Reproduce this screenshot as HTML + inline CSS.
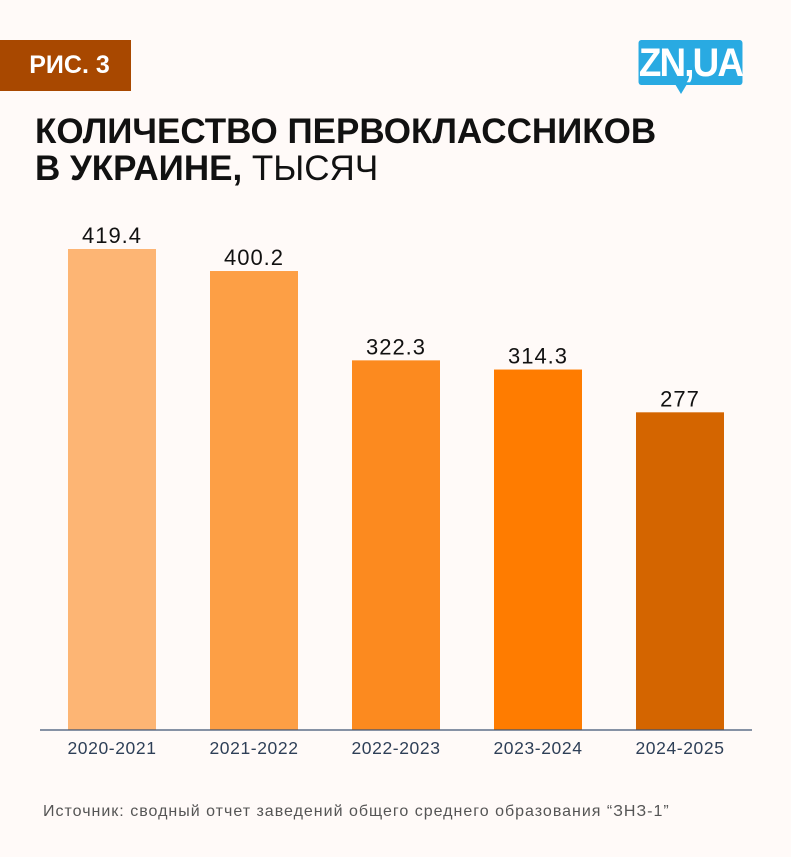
<!DOCTYPE html>
<html><head><meta charset="utf-8"><style>
body{margin:0;background:#fffaf8;}
#c{position:relative;width:791px;height:857px;background:#fffaf8;font-family:"Liberation Sans",sans-serif;overflow:hidden}
.badge{position:absolute;left:0;top:40px;width:131px;height:51px;background:#a84800;color:#fff;font-weight:bold;font-size:25px;line-height:51px;text-align:center;padding-left:8px;box-sizing:border-box}
.logo{position:absolute;left:634px;top:40px;width:113px;height:45px;background:#29aae2;border-radius:3px;color:#fff;font-weight:bold;font-size:40px;line-height:46px;text-align:center;letter-spacing:-2px;transform:scaleX(0.92)}
.tail{position:absolute;left:675px;top:84px;width:0;height:0;border-left:6px solid transparent;border-right:6px solid transparent;border-top:10px solid #29aae2}
.title{position:absolute;left:35px;top:113px;font-size:35px;line-height:37px;font-weight:bold;color:#111;white-space:nowrap}
.title span{font-weight:normal}
.src{position:absolute;left:43px;top:803px;font-size:16px;color:#555;letter-spacing:1px;white-space:nowrap}
</style></head><body>
<div id="c">
<div class="badge">РИС. 3</div>
<div class="logo">ZN,UA</div>
<div class="tail"></div>
<div class="title">КОЛИЧЕСТВО ПЕРВОКЛАССНИКОВ<br>В УКРАИНЕ, <span>ТЫСЯЧ</span></div>
<svg id="svg" width="791" height="857" style="position:absolute;left:0;top:0"></svg>
<div class="src">Источник: сводный отчет заведений общего среднего образования “ЗНЗ-1”</div>
</div>
<script>
const categories=["2020-2021","2021-2022","2022-2023","2023-2024","2024-2025"];
const values=[419.4,400.2,322.3,314.3,277];
const labels=["419.4","400.2","322.3","314.3","277"];
const colors=["#fdb574","#fd9f45","#fc8a1f","#ff7c00","#d46500"];
const svg=document.getElementById('svg');
const NS="http://www.w3.org/2000/svg";
const base=730, scale=481/419.4;
const y=v=>base-v*scale;
const x=i=>68+i*142;
const bw=88;
function mk(t,a){const e=document.createElementNS(NS,t);for(const k in a)e.setAttribute(k,a[k]);svg.appendChild(e);return e;}
values.forEach((v,i)=>{
 const r=mk('rect',{x:x(i),y:y(v),width:bw,height:base-y(v),fill:colors[i]});
 
 
 const t=mk('text',{x:x(i)+bw/2,y:y(v)-6,'text-anchor':'middle','font-size':'22','letter-spacing':'1','font-family':'Liberation Sans, sans-serif',fill:'#111'});
 t.textContent=labels[i];
 
 
 const c=mk('text',{x:x(i)+bw/2,y:base+24,'text-anchor':'middle','font-size':'17.5','letter-spacing':'0.6','font-family':'Liberation Sans, sans-serif',fill:'#2e3f57'});
 c.textContent=categories[i];
 
 
});
const ax=mk('line',{x1:40,x2:752,y1:base,y2:base,stroke:'#3f5573','stroke-width':1.2});


</script>
</body></html>
